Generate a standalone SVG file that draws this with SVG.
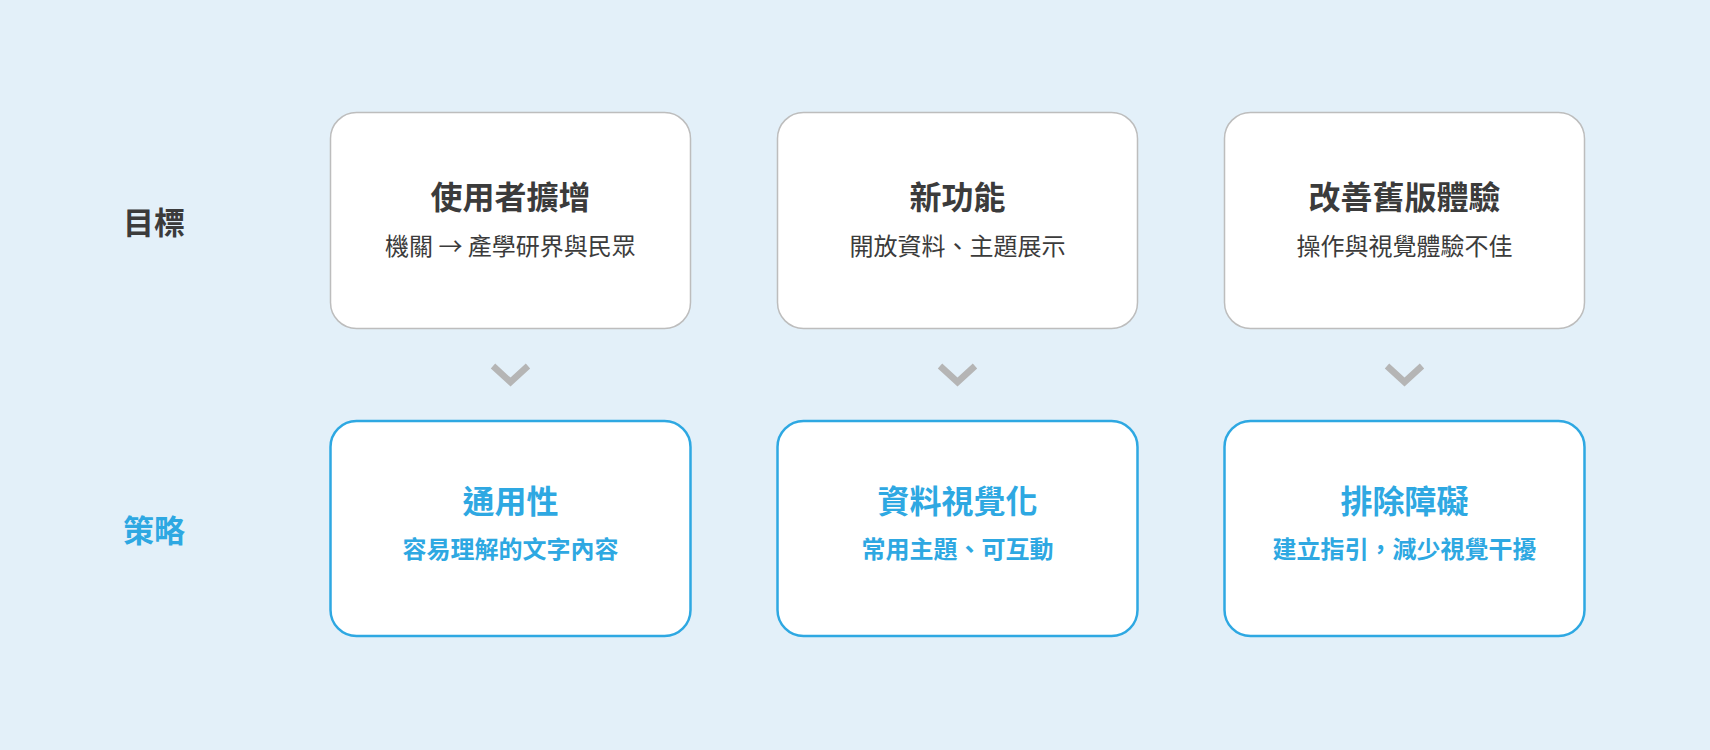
<svg xmlns="http://www.w3.org/2000/svg" width="1710" height="750" viewBox="0 0 1710 750">
<style>
text{font-family:"Noto Sans CJK TC","Noto Sans CJK SC",sans-serif;text-anchor:middle}
.goal{fill:#ffffff;stroke:#bdbdbd;stroke-width:1.5}
.strat{fill:#ffffff;stroke:#2ea8e2;stroke-width:2.5}
.row{font-size:31px;font-weight:700}
.t1{font-size:32px;font-weight:700;fill:#3b3b3b}
.s1{font-size:24px;font-weight:400;fill:#3b3b3b}
.t2{font-size:32px;font-weight:700;fill:#2ea8e2}
.s2{font-size:24px;font-weight:700;fill:#2ea8e2}
.chev{fill:none;stroke:#b5b5b5;stroke-width:6.5}
</style>
<rect width="1710" height="750" fill="#e3f0f9"/>
<g id="label-goal"><text class="row" x="154" y="234" fill="#3b3b3b">目標</text></g>
<g id="label-strategy"><text class="row" x="154" y="542" fill="#2ea8e2">策略</text></g>
<g id="goal-1">
<rect class="goal" x="330.5" y="112.5" width="360" height="216" rx="26"/>
<text class="t1" x="510.5" y="209">使用者擴增</text>
<text class="s1" x="510.5" y="255">機關 → 產學研界與民眾</text>
</g>
<g id="goal-2">
<rect class="goal" x="777.5" y="112.5" width="360" height="216" rx="26"/>
<text class="t1" x="957.5" y="209">新功能</text>
<text class="s1" x="957.5" y="255">開放資料、主題展示</text>
</g>
<g id="goal-3">
<rect class="goal" x="1224.5" y="112.5" width="360" height="216" rx="26"/>
<text class="t1" x="1404.5" y="209">改善舊版體驗</text>
<text class="s1" x="1404.5" y="255">操作與視覺體驗不佳</text>
</g>
<g id="strategy-1">
<rect class="strat" x="330.5" y="421" width="360" height="215" rx="26"/>
<text class="t2" x="510.5" y="513">通用性</text>
<text class="s2" x="510.5" y="558">容易理解的文字內容</text>
</g>
<g id="strategy-2">
<rect class="strat" x="777.5" y="421" width="360" height="215" rx="26"/>
<text class="t2" x="957.5" y="513">資料視覺化</text>
<text class="s2" x="957.5" y="558">常用主題、可互動</text>
</g>
<g id="strategy-3">
<rect class="strat" x="1224.5" y="421" width="360" height="215" rx="26"/>
<text class="t2" x="1404.5" y="513">排除障礙</text>
<text class="s2" x="1404.5" y="558">建立指引，減少視覺干擾</text>
</g>
<g id="connectors">
<polyline class="chev" points="493,366 510.5,382 528,366"/>
<polyline class="chev" points="940,366 957.5,382 975,366"/>
<polyline class="chev" points="1387,366 1404.5,382 1422,366"/>
</g>
</svg>
